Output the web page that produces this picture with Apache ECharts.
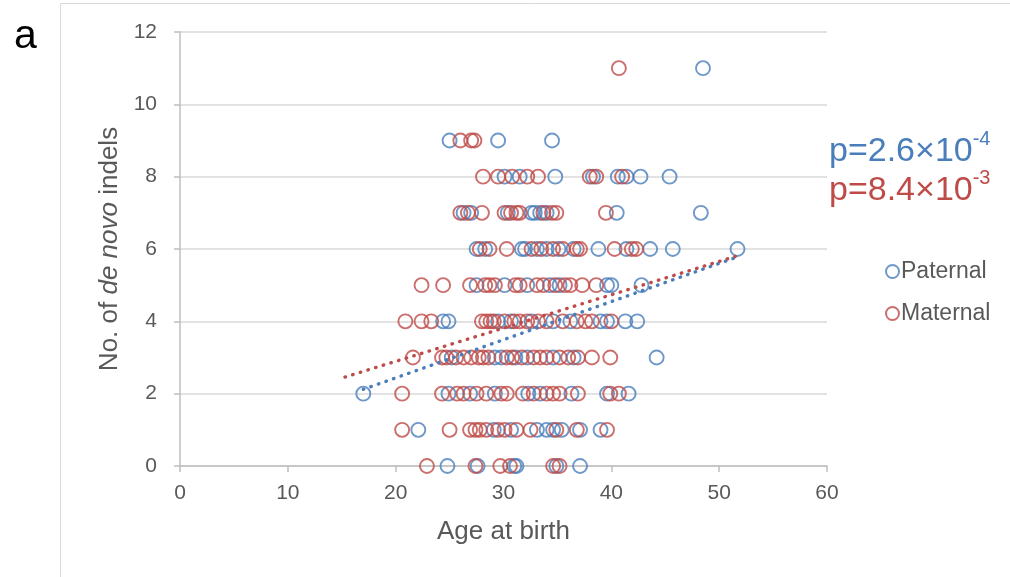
<!DOCTYPE html>
<html>
<head>
<meta charset="utf-8">
<script src="https://cdn.jsdelivr.net/npm/echarts@6/dist/echarts.min.js"></script>
<style>
  html, body { margin: 0; padding: 0; background: #fff; }
  #chart { width: 1010px; height: 577px; }
</style>
</head>
<body>
<div id="chart"></div>
<script>
  // ages at birth, one list per number of de novo indels (index = count)
  const paternalRows = [
    [24.8, 27.6, 31.0, 31.2, 34.9, 37.1],
    [22.1, 29.1, 30.7, 33.1, 34.0, 34.6, 35.4, 37.1, 39.0],
    [17.0, 24.9, 26.9, 29.2, 32.3, 33.4, 36.3, 39.6, 41.6],
    [25.2, 29.2, 29.8, 31.1, 32.2, 34.6, 36.5, 44.2],
    [24.4, 24.9, 29.5, 30.7, 32.6, 34.6, 36.2, 39.0, 39.6, 41.3, 42.4],
    [27.5, 30.1, 32.2, 34.3, 35.2, 39.6, 40.0, 42.8],
    [27.5, 28.3, 31.7, 32.0, 33.1, 34.0, 35.1, 36.5, 38.8, 41.4, 43.6, 45.7, 51.7],
    [26.3, 27.0, 30.4, 32.6, 32.9, 33.4, 34.0, 40.5, 48.3],
    [30.1, 31.5, 34.8, 38.3, 40.6, 41.4, 42.7, 45.4],
    [25.0, 29.5, 34.5],
    [],
    [48.5]
  ]
  const maternalRows = [
    [22.9, 27.4, 29.7, 30.6, 34.6, 35.2],
    [20.6, 25.0, 26.9, 27.4, 27.8, 28.4, 29.5, 30.1, 31.2, 32.5, 34.9, 36.8, 39.6],
    [20.6, 24.3, 25.7, 26.3, 27.5, 28.4, 29.8, 30.3, 31.8, 32.8, 34.0, 34.6, 35.2, 36.9, 39.9, 40.7],
    [21.6, 24.3, 24.7, 25.6, 26.3, 27.0, 27.7, 28.1, 28.6, 30.3, 30.8, 31.7, 32.8, 33.4, 34.0, 35.2, 36.0, 36.9, 38.2, 39.9],
    [20.9, 22.4, 23.3, 28.0, 28.4, 28.8, 29.1, 30.1, 31.0, 31.5, 32.2, 33.2, 34.0, 35.5, 36.8, 37.6, 38.2, 40.0],
    [22.4, 24.4, 26.9, 28.3, 28.7, 29.2, 31.1, 31.5, 33.1, 33.7, 34.8, 35.7, 36.2, 37.3, 38.6],
    [27.8, 28.7, 30.3, 32.6, 33.5, 34.6, 35.5, 36.8, 37.1, 40.3, 41.9, 42.3],
    [26.0, 26.7, 28.0, 30.1, 30.7, 31.2, 31.5, 33.7, 34.5, 34.9, 39.5],
    [28.1, 29.5, 30.8, 32.2, 33.2, 38.0, 38.6, 41.0],
    [26.0, 27.0, 27.3],
    [],
    [40.7]
  ]
  // trend line end points
  const paternalTrend = [[17.0, 2.12], [51.7, 5.78]]
  const maternalTrend = [[15.3, 2.46], [52.0, 5.84]]
  const pPaternal = ['p=2.6×10', '-4']
  const pMaternal = ['p=8.4×10', '-3']

  const BLUE = '#4a7ebb'
  const RED = '#be4b48'
  const FONT = '"Liberation Sans", Arial, sans-serif'

  function toPoints(rows) {
    let _arr = []
    for (let n = 0; n < rows.length; n++) {
      for (let i = 0; i < rows[n].length; i++) {
        _arr.push([rows[n][i], n])
      }
    }
    return _arr
  }

  function scatter(name, rows, color) {
    return {
      name: name,
      type: 'scatter',
      symbol: 'circle',
      symbolSize: 14,
      itemStyle: { color: 'rgba(255,255,255,0)', borderColor: color, borderWidth: 1.9 },
      data: toPoints(rows)
    }
  }

  function trend(data, color) {
    return {
      type: 'line',
      data: data,
      symbol: 'none',
      silent: true,
      z: 5,
      lineStyle: { color: color, width: 3.4, type: [0.5, 7.5], cap: 'round' }
    }
  }

  function pText(parts, color) {
    return {
      text: '{b|' + parts[0] + '}{s|' + parts[1] + '}',
      rich: {
        b: { fontSize: 34, fill: color, fontFamily: FONT, lineHeight: 40, verticalAlign: 'bottom' },
        s: { fontSize: 20, fill: color, fontFamily: FONT, lineHeight: 40, verticalAlign: 'top' }
      }
    }
  }

  const chart = echarts.init(document.getElementById('chart'))
  chart.setOption({
    animation: false,
    textStyle: { fontFamily: FONT },
    grid: { left: 180, right: 183, top: 32, bottom: 111 },
    legend: {
      orient: 'vertical',
      left: 880,
      top: 255,
      itemGap: 19,
      itemWidth: 13,
      itemHeight: 13,
      icon: 'circle',
      data: ['Paternal', 'Maternal'],
      textStyle: { fontSize: 23, color: '#595959', padding: [0, 0, 0, -3] }
    },
    xAxis: {
      type: 'value',
      min: 0,
      max: 60,
      interval: 10,
      name: 'Age at birth',
      nameLocation: 'middle',
      nameGap: 53,
      nameTextStyle: { fontSize: 26, color: '#595959' },
      axisLine: { show: true, lineStyle: { color: '#bfbfbf', width: 1.5 } },
      axisTick: { show: true, length: 6, inside: false, lineStyle: { color: '#bfbfbf', width: 1.5 } },
      axisLabel: { fontSize: 21, color: '#595959', margin: 17 },
      splitLine: { show: false }
    },
    yAxis: {
      type: 'value',
      min: 0,
      max: 12,
      interval: 2,
      name: '{a|No. of }{i|de novo}{a| indels}',
      nameLocation: 'middle',
      nameGap: 53,
      nameTextStyle: {
        rich: {
          a: { fontSize: 26, color: '#595959', fontFamily: FONT },
          i: { fontSize: 26, color: '#595959', fontFamily: FONT, fontStyle: 'italic' }
        }
      },
      axisLine: { show: true, lineStyle: { color: '#bfbfbf', width: 1.5 } },
      axisTick: { show: true, length: 6, lineStyle: { color: '#bfbfbf', width: 1.5 } },
      axisLabel: { fontSize: 21, color: '#595959', margin: 23 },
      splitLine: { show: true, lineStyle: { color: '#d9d9d9', width: 1.5 } }
    },
    graphic: [
      {
        type: 'rect',
        shape: { x: 60.5, y: 3.5, width: 1000, height: 600 },
        style: { fill: 'none', stroke: '#d9d9d9', lineWidth: 1 },
        silent: true
      },
      {
        type: 'text',
        left: 14,
        top: 16,
        style: { text: 'a', fontSize: 41, fill: '#000', fontFamily: FONT }
      },
      { type: 'text', left: 829, top: 129, style: pText(pPaternal, BLUE) },
      { type: 'text', left: 829, top: 168, style: pText(pMaternal, RED) }
    ],
    series: [
      scatter('Paternal', paternalRows, BLUE),
      scatter('Maternal', maternalRows, RED),
      trend(paternalTrend, BLUE),
      trend(maternalTrend, RED)
    ]
  })
</script>
</body>
</html>
